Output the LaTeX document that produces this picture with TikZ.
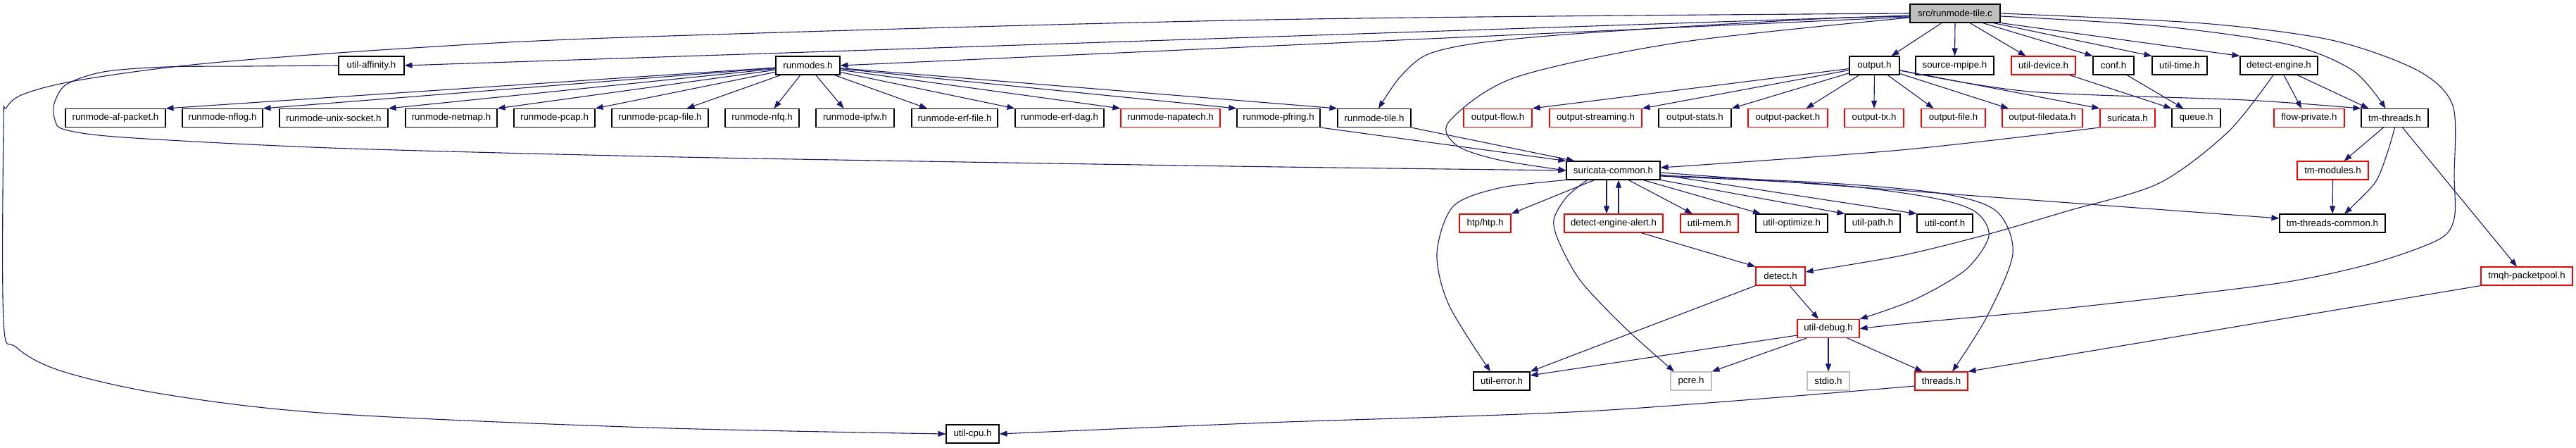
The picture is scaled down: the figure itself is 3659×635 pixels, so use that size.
\documentclass[tikz,border=0pt]{standalone}
\usepackage{fontspec}
\setmainfont{Liberation Sans}
\usetikzlibrary{arrows.meta}
\definecolor{edgeblue}{HTML}{191970}
\definecolor{nodegray}{HTML}{BFBFBF}
\begin{document}
\begin{tikzpicture}[x=1pt,y=-1pt,
 nbox/.style={draw=black, line width=1.1pt, fill=white, rectangle, minimum height=26pt, inner sep=0pt, font=\fontsize{13.3}{16}\selectfont, minimum width=#1},
 redbox/.style={nbox=#1, draw=red},
 graybox/.style={nbox=#1, draw=nodegray},
 edgeline/.style={draw=edgeblue, line width=1.1pt, -{Triangle[length=11pt,width=8pt]}},
]
\path[fill=white] (0,0) rectangle (3659,635);
\useasboundingbox (0,0) rectangle (3659,635);

% row 1
\node[nbox=128pt, fill=nodegray] (src) at (2777,19) {src/runmode-tile.c};
% row 2
\node[nbox=93pt] (uaff) at (527.5,93) {util-affinity.h};
\node[nbox=91pt] (runmodes) at (1147.5,93) {runmodes.h};
\node[nbox=71pt] (output) at (2662.5,93) {output.h};
\node[nbox=111pt] (mpipe) at (2776.5,93) {source-mpipe.h};
\node[redbox=91pt] (udev) at (2902.5,93) {util-device.h};
\node[nbox=58pt] (conf) at (3002,93) {conf.h};
\node[nbox=78pt] (utime) at (3096,93) {util-time.h};
\node[nbox=110pt] (deteng) at (3237,93) {detect-engine.h};
% row 3
\node[nbox=142pt] (afp) at (164,167.5) {runmode-af-packet.h};
\node[nbox=114pt] (nflog) at (316,167.5) {runmode-nflog.h};
\node[nbox=154pt] (unix) at (474,167.5) {runmode-unix-socket.h};
\node[nbox=130pt] (netmap) at (641,167.5) {runmode-netmap.h};
\node[nbox=115pt] (pcap) at (787.5,167.5) {runmode-pcap.h};
\node[nbox=137pt] (pcapfile) at (937.5,167.5) {runmode-pcap-file.h};
\node[nbox=105pt] (nfq) at (1082.5,167.5) {runmode-nfq.h};
\node[nbox=111pt] (ipfw) at (1214.5,167.5) {runmode-ipfw.h};
\node[nbox=122pt] (erffile) at (1356,167.5) {runmode-erf-file.h};
\node[nbox=126pt] (erfdag) at (1505,167.5) {runmode-erf-dag.h};
\node[redbox=141pt] (napatech) at (1662.5,167.5) {runmode-napatech.h};
\node[nbox=118pt] (pfring) at (1816,167.5) {runmode-pfring.h};
\node[nbox=104pt] (rtile) at (1952,167.5) {runmode-tile.h};
\node[redbox=97pt] (oflow) at (2127.5,167.5) {output-flow.h};
\node[redbox=131pt] (ostream) at (2266.5,167.5) {output-streaming.h};
\node[nbox=103pt] (ostats) at (2407.5,167.5) {output-stats.h};
\node[redbox=113pt] (opacket) at (2539.5,167.5) {output-packet.h};
\node[redbox=84pt] (otx) at (2662,167.5) {output-tx.h};
\node[redbox=91pt] (ofile) at (2774.5,167.5) {output-file.h};
\node[redbox=114pt] (ofiledata) at (2901,167.5) {output-filedata.h};
\node[redbox=78pt] (suricata) at (3022,167.5) {suricata.h};
\node[nbox=69pt] (queue) at (3119.5,167.5) {queue.h};
\node[redbox=100pt] (flowpriv) at (3280,167.5) {flow-private.h};
\node[nbox=95pt] (tmth) at (3401.5,167.5) {tm-threads.h};
% row 4
\node[nbox=133pt] (scommon) at (2291.5,242) {suricata-common.h};
\node[redbox=101pt] (tmmod) at (3313.5,242) {tm-modules.h};
% row 5
\node[redbox=73pt] (htp) at (2109.5,317) {htp/htp.h};
\node[redbox=140pt] (dea) at (2292,317) {detect-engine-alert.h};
\node[redbox=82pt] (umem) at (2428,317) {util-mem.h};
\node[nbox=102pt] (uopt) at (2545,317) {util-optimize.h};
\node[nbox=78pt] (upath) at (2660,317) {util-path.h};
\node[nbox=79pt] (uconf) at (2762.5,317) {util-conf.h};
\node[nbox=150pt] (tmtc) at (3313,317) {tm-threads-common.h};
% row 6
\node[redbox=70pt] (detect) at (2529,392) {detect.h};
\node[redbox=130pt] (tmqh) at (3589,392) {tmqh-packetpool.h};
% row 7
\node[redbox=88pt] (udebug) at (2597,466.5) {util-debug.h};
% row 8
\node[nbox=80pt] (uerr) at (2133,541) {util-error.h};
\node[graybox=58pt] (pcre) at (2402,541) {pcre.h};
\node[graybox=60pt] (stdio) at (2597,541) {stdio.h};
\node[redbox=75pt] (threads) at (2757.5,541) {threads.h};
% row 9
\node[nbox=75pt] (ucpu) at (1381.5,616) {util-cpu.h};

% ---- edges from src
\draw[edgeline] plot[smooth,tension=0.55] coordinates {(src.west) (1800,28) (920,52) (587,68) (293,90) (117,113) (35,133) (9,153) (5,178) (5,455) (23,493) (88,527) (235,560) (469,587) (920,607) (ucpu.west)};
\draw[edgeline] ([yshift=-3pt]src.west) -- (uaff.east);
\draw[edgeline] ([yshift=-5pt]src.west) -- (runmodes.east);
\draw[edgeline] plot[smooth] coordinates {([yshift=-4pt]src.west) (2600,26) (2387,38) (2211,50) (2093,62) (2026,78) (1988,110) ([xshift=6pt]rtile.north)};
\draw[edgeline] plot[smooth] coordinates {([yshift=-6pt]src.west) (2387,60) (2152,110) (2058,173) (2070,207) (2129,227) (scommon.west)};
\draw[edgeline] ([xshift=-19pt]src.south) -- ([xshift=24pt]output.north);
\draw[edgeline] (src.south) -- (mpipe.north);
\draw[edgeline] ([xshift=21pt]src.south) -- ([xshift=-25pt]udev.north);
\draw[edgeline] ([xshift=39pt]src.south) -- (conf.north west);
\draw[edgeline] ([xshift=54pt]src.south) -- (utime.north west);
\draw[edgeline] (src.south east) -- (deteng.north west);
\draw[edgeline] plot[smooth] coordinates {([yshift=-4pt]src.east) (3067,37) (3250,63) (3342,100) ([xshift=-13pt]tmth.north)};
\draw[edgeline] plot[smooth] coordinates {(src.east) (3128,33) (3312,57) (3434,100) (3484,150) (3486,250) (3486,310) (3464,340) (3373,373) (3250,400) (3067,423) (2883,443) (2720,458) (udebug.east)};

% ---- runmodes.h
\draw[edgeline] (runmodes) -- (afp.north east);
\draw[edgeline] (runmodes) -- (nflog.north east);
\draw[edgeline] (runmodes) -- (unix.north east);
\draw[edgeline] (runmodes) -- (netmap.north east);
\draw[edgeline] (runmodes) -- (pcap.north east);
\draw[edgeline] (runmodes) -- ([xshift=38pt]pcapfile.north);
\draw[edgeline] (runmodes) -- ([xshift=17pt]nfq.north);
\draw[edgeline] (runmodes) -- ([xshift=-16pt]ipfw.north);
\draw[edgeline] (runmodes) -- ([xshift=-39pt]erffile.north);
\draw[edgeline] (runmodes) -- (erfdag.north west);
\draw[edgeline] (runmodes) -- (napatech.north west);
\draw[edgeline] (runmodes) -- (pfring.north west);
\draw[edgeline] (runmodes) -- (rtile.north west);

% ---- util-affinity.h
\draw[edgeline] plot[smooth] coordinates {(uaff.west) (352,94) (235,95) (147,102) (94,120) (77,147) (78,170) (92,184) (176,195) (469,210) (920,222) (1369,230) (1820,237) (scommon.west)};

% ---- output.h
\draw[edgeline] (output) -- (oflow.north east);
\draw[edgeline] (output) -- (ostream.north east);
\draw[edgeline] (output) -- (ostats.north east);
\draw[edgeline] (output) -- ([xshift=26pt]opacket.north);
\draw[edgeline] (output) -- (otx.north);
\draw[edgeline] (output) -- ([xshift=-28pt]ofile.north);
\draw[edgeline] (output) -- ([xshift=-48pt]ofiledata.north);
\draw[edgeline] (output) -- (suricata.north west);
\draw[edgeline] plot[smooth] coordinates {([yshift=-7pt]output.east) (2883,130) (3189,142) (tmth.north west)};

% ---- detect-engine.h
\draw[edgeline] ([xshift=7pt]deteng.south) -- ([xshift=-11pt]flowpriv.north);
\draw[edgeline] ([xshift=26pt]deteng.south) -- ([xshift=-37pt]tmth.north);
\draw[edgeline] plot[smooth] coordinates {([xshift=-8pt]deteng.south) (3165,187) (3067,260) (2935,300) (2822,333) (2700,363) ([yshift=6pt]detect.east)};

% ---- queue.h
\draw[edgeline] ([xshift=37pt]udev.south) -- (queue.north west);
\draw[edgeline] ([xshift=19pt]conf.south) -- ([xshift=-18pt]queue.north);

% ---- into suricata-common.h
\draw[edgeline] plot[smooth] coordinates {(suricata.south west) (2700,213) ([yshift=4pt]scommon.east)};
\draw[edgeline] (pfring.south east) -- (scommon.north west);
\draw[edgeline] (rtile.south east) -- ([xshift=12pt]scommon.north west);

% ---- tm-threads.h
\draw[edgeline] ([xshift=-16pt]tmth.south) -- ([xshift=16pt]tmmod.north);
\draw[edgeline] plot[smooth] coordinates {(tmth.south) (3391,217) (3373,260) ([xshift=17pt]tmtc.north)};
\draw[edgeline] (tmmod.south) -- (tmtc.north);
\draw[edgeline] ([xshift=11pt]tmth.south) -- ([xshift=-14pt]tmqh.north);
\draw[edgeline] (tmqh.south west) -- (threads.north east);

% ---- from suricata-common.h
\draw[edgeline] ([xshift=-27pt]scommon.south) -- (htp.north east);
\draw[edgeline] ([xshift=-9.5pt]scommon.south) -- ([xshift=-10pt]dea.north);
\draw[edgeline] ([xshift=7pt]dea.north) -- ([xshift=7.5pt]scommon.south);
\draw[edgeline] ([xshift=21.5pt]scommon.south) -- ([xshift=-24pt]umem.north);
\draw[edgeline] ([xshift=42.5pt]scommon.south) -- ([xshift=-44pt]uopt.north);
\draw[edgeline] (scommon.south east) -- (upath.north west);
\draw[edgeline] ([yshift=-6pt]scommon.east) -- (uconf.north west);
\draw[edgeline] ([yshift=-3pt]scommon.east) -- ([yshift=7pt]tmtc.west);
\draw[edgeline] plot[smooth] coordinates {([yshift=-8pt]scommon.east) (2600,262) (2740,280) (2805,300) (2825,335) (2792,383) (2720,425) (udebug.north east)};
\draw[edgeline] plot[smooth] coordinates {([yshift=-7pt]scommon.east) (2600,260) (2760,275) (2836,300) (2859,360) (2822,450) ([xshift=15.5pt]threads.north)};
\draw[edgeline] plot[smooth] coordinates {(scommon.south west) (2129,267) (2064,293) (2041,360) (2058,433) ([xshift=-16pt]uerr.north)};
\draw[edgeline] plot[smooth] coordinates {([xshift=-37pt]scommon.south) (2225,280) (2207,312) (2215,345) (2246,400) (2310,467) ([xshift=-24pt]pcre.north)};

% ---- detect.h
\draw[edgeline] ([xshift=39pt]dea.south) -- (detect.north west);
\draw[edgeline] (detect.south west) -- (uerr.north east);
\draw[edgeline] ([xshift=13pt]detect.south) -- ([xshift=-14pt]udebug.north);

% ---- util-debug.h
\draw[edgeline] ([yshift=4pt]udebug.south west) -- ([yshift=8pt]uerr.east);
\draw[edgeline] ([xshift=-31pt]udebug.south) -- (pcre.north east);
\draw[edgeline] (udebug.south) -- (stdio.north);
\draw[edgeline] ([xshift=27pt]udebug.south) -- ([xshift=-26.5pt]threads.north);

% ---- threads.h
\draw[edgeline] plot[smooth] coordinates {([yshift=-7pt]threads.west) (2269,583) (1800,600) (ucpu.east)};
\end{tikzpicture}
\end{document}
